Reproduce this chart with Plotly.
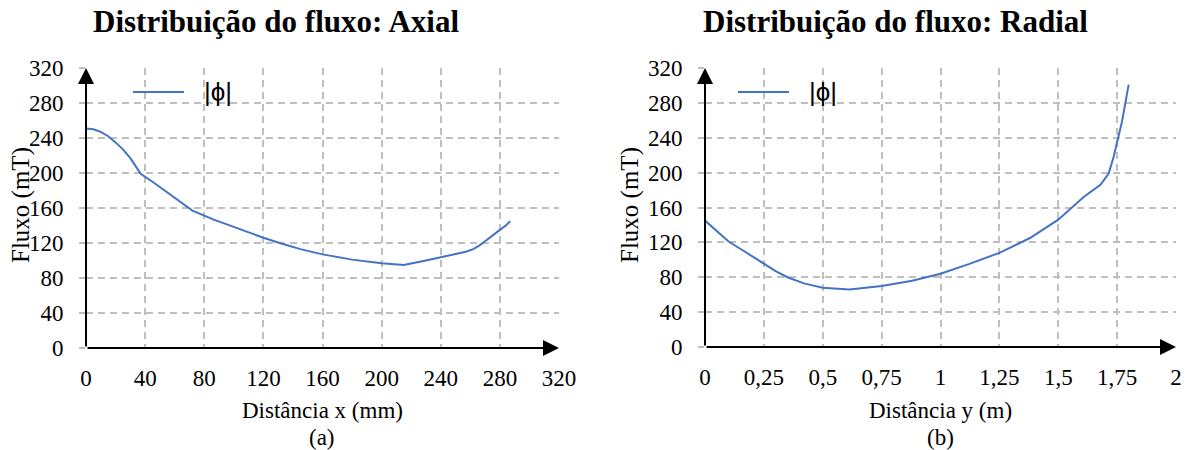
import plotly.graph_objects as go

# ---------------- data ----------------
axial_x = [0, 5, 10, 15, 20, 25, 30, 34, 37, 45, 55, 65, 72, 86, 100, 113, 120, 131, 145,
           160, 180, 200, 215, 230, 240, 250, 257, 262, 266, 270, 275, 280, 284, 287]
axial_phi = [251, 250, 247, 242, 235, 227, 217, 206, 199, 190, 178, 166, 157, 147, 138,
             130, 126, 120, 113, 107, 101, 97, 95, 100, 104, 108, 110, 113, 117, 122, 128,
             135, 140, 145]

radial_y = [0, 0.03, 0.064, 0.1, 0.148, 0.2, 0.25, 0.3, 0.35, 0.42, 0.5, 0.614,
            0.75, 0.88, 1.0, 1.12, 1.25, 1.38, 1.5, 1.55, 1.608, 1.679, 1.714, 1.735,
            1.752, 1.771, 1.785, 1.799]
radial_phi = [145, 138, 129, 121, 113, 104, 95, 87, 80, 73, 68, 66, 70, 76, 84, 95,
              108, 125, 146, 158, 172, 186, 199, 218, 236, 259, 280, 301]

flux_ticks = [0, 40, 80, 120, 160, 200, 240, 280, 320]
axial_ticks = [0, 40, 80, 120, 160, 200, 240, 280, 320]
radial_ticks = [0, 0.25, 0.5, 0.75, 1, 1.25, 1.5, 1.75, 2]
radial_tick_text = ["0", "0,25", "0,5", "0,75", "1", "1,25", "1,5", "1,75", "2"]

title_a = "Distribuição do fluxo: Axial"
title_b = "Distribuição do fluxo: Radial"
legend_label = "|ϕ|"

# ---------------- layout constants ----------------
W, H = 1186, 450
LINE = "#4472C4"
GRID = "#BFBFBF"
SERIF = "Liberation Serif"
SANS = "Liberation Sans"

def px(x):
    return x / W

def py(y):
    return (H - y) / H

fig = go.Figure()
fig.add_trace(go.Scatter(x=axial_x, y=axial_phi, mode="lines", name=legend_label,
                         line=dict(color=LINE, width=2), xaxis="x", yaxis="y",
                         showlegend=False))
fig.add_trace(go.Scatter(x=radial_y, y=radial_phi, mode="lines", name=legend_label,
                         line=dict(color=LINE, width=2), xaxis="x2", yaxis="y2",
                         showlegend=False))

tickfont = dict(family=SERIF, size=23, color="black")

def xaxis(domain, anchor, rng, tickvals, ticktext=None):
    d = dict(domain=domain, anchor=anchor, range=rng, tickvals=tickvals,
             showgrid=True, gridcolor=GRID, gridwidth=1.5, griddash="7px,5px",
             zeroline=False, showline=False, ticks="", tickfont=tickfont,
             ticklabelstandoff=14, fixedrange=True, automargin=False)
    if ticktext is not None:
        d["ticktext"] = ticktext
    return d

def yaxis(domain, anchor, rng, tickvals):
    return dict(domain=domain, anchor=anchor, range=rng, tickvals=tickvals,
                showgrid=True, gridcolor=GRID, gridwidth=1.5, griddash="7px,5px",
                zeroline=False, showline=False, ticks="outside", ticklen=6,
                tickcolor=GRID, tickwidth=1.5, tickfont=tickfont,
                ticklabelstandoff=11, fixedrange=True, automargin=False)

fig.update_layout(
    template="none",
    width=W, height=H, margin=dict(l=0, r=0, t=0, b=0, autoexpand=False),
    paper_bgcolor="white", plot_bgcolor="white", showlegend=False,
    font=dict(family=SERIF, color="black"),
    xaxis=xaxis([px(86), px(559)], "y", [0, 320], axial_ticks),
    yaxis=yaxis([py(348), py(68)], "x", [0, 320], flux_ticks),
    xaxis2=xaxis([px(705), px(1176)], "y2", [0, 2], radial_ticks, radial_tick_text),
    yaxis2=yaxis([py(347), py(68)], "x2", [0, 320], flux_ticks),
)

annotations = []
shapes = []

# axis lines with arrowheads
for xr, yr, xmax in (("x", "y", 320), ("x2", "y2", 2)):
    annotations.append(dict(x=0, y=320, ax=0, ay=0, xref=xr, yref=yr, axref=xr, ayref=yr,
                            showarrow=True, arrowhead=2, arrowsize=1.6, arrowwidth=2,
                            arrowcolor="black", standoff=0, text=""))
    annotations.append(dict(x=xmax, y=0, ax=0, ay=0, xref=xr, yref=yr, axref=xr, ayref=yr,
                            showarrow=True, arrowhead=2, arrowsize=1.6, arrowwidth=2,
                            arrowcolor="black", standoff=0, text=""))

# titles
for cx, t in ((276, title_a), (895, title_b)):
    annotations.append(dict(x=px(cx), y=py(22), xref="paper", yref="paper", text=f"<b>{t}</b>",
                            showarrow=False, xanchor="center", yanchor="middle",
                            font=dict(family=SERIF, size=31, color="black")))

# axis titles and captions
labfont = dict(family=SERIF, size=23, color="black")
for cx, xt, cap in ((322, "Distância x (mm)", "(a)"), (940, "Distância y (m)", "(b)")):
    annotations.append(dict(x=px(cx), y=py(410), xref="paper", yref="paper", text=xt,
                            showarrow=False, xanchor="center", yanchor="middle", font=labfont))
    annotations.append(dict(x=px(cx), y=py(437), xref="paper", yref="paper", text=cap,
                            showarrow=False, xanchor="center", yanchor="middle", font=labfont))
for cx, cy in ((21, 205), (630, 205)):
    annotations.append(dict(x=px(cx), y=py(cy), xref="paper", yref="paper", text="Fluxo (mT)",
                            showarrow=False, xanchor="center", yanchor="middle", textangle=-90,
                            font=dict(family=SERIF, size=25, color="black")))

# legends
for lx0, lx1, tx in ((133, 184, 202), (738, 789, 807)):
    shapes.append(dict(type="line", xref="paper", yref="paper", x0=px(lx0), x1=px(lx1),
                       y0=py(92), y1=py(92), line=dict(color=LINE, width=2)))
    annotations.append(dict(x=px(tx), y=py(92), xref="paper", yref="paper", text=legend_label,
                            showarrow=False, xanchor="left", yanchor="middle",
                            font=dict(family=SANS, size=26, color="black")))

fig.update_layout(annotations=annotations, shapes=shapes)
fig.write_html("out.html")
